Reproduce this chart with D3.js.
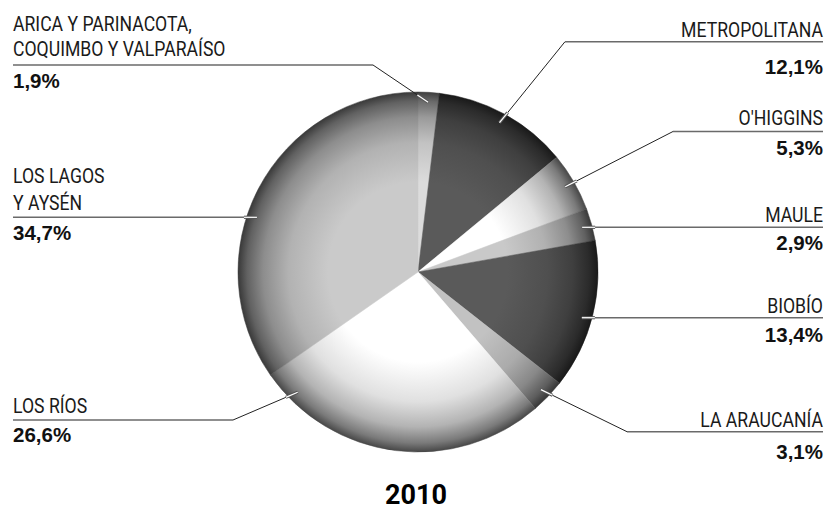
<!DOCTYPE html>
<html><head><meta charset="utf-8">
<script src="https://cdn.jsdelivr.net/npm/d3@7"></script>
<style>
html,body{margin:0;padding:0;background:#fff;}
svg{display:block;}
.name{font-family:Roboto,"Liberation Sans",sans-serif;font-weight:400;font-size:21px;fill:#1a1a1a;}
.pct{font-family:"Liberation Sans","Arial",sans-serif;font-weight:bold;font-size:20.5px;fill:#111;}
.title{font-family:Roboto,"Liberation Sans",sans-serif;font-weight:bold;font-size:27px;fill:#000;}
</style></head>
<body>
<svg id="c" width="825" height="512"></svg>
<script>
// ---- data ----
const regions = ["ARICA Y PARINACOTA,\nCOQUIMBO Y VALPARAÍSO","METROPOLITANA","O'HIGGINS","MAULE","BIOBÍO","LA ARAUCANÍA","LOS RÍOS","LOS LAGOS\nY AYSÉN"];
const shares = [1.9, 12.1, 5.3, 2.9, 13.4, 3.1, 26.6, 34.7];
const shareLabels = ["1,9%","12,1%","5,3%","2,9%","13,4%","3,1%","26,6%","34,7%"];
const year = "2010";

// ---- styling / layout (not data) ----
const baseColors = ["#dcdcdc","#5a5a5a","#ffffff","#c9c9c9","#5a5a5a","#c2c2c2","#ffffff","#cacaca"];
const layout = [
  {side:"left",  lineY:65,    elbowX:373,  nameY:[31,56],   pctY:88},
  {side:"right", lineY:41.7,  elbowX:565,  nameY:[36.5],    pctY:74},
  {side:"right", lineY:131.5, elbowX:673,  nameY:[125],     pctY:155},
  {side:"right", lineY:227.3, elbowX:null, nameY:[221.5],   pctY:250},
  {side:"right", lineY:317.7, elbowX:null, nameY:[313],     pctY:341.5},
  {side:"right", lineY:431.7, elbowX:627,  nameY:[426.5],   pctY:459},
  {side:"left",  lineY:420,   elbowX:233,  nameY:[412.5],   pctY:441.5, angle:225},
  {side:"left",  lineY:217.3, elbowX:null, nameY:[183,210], pctY:240}
];
const W=825, H=512, cx=418, cy=272, R=180, leftX=13, rightX=823, nameScale=0.84;

const svg = d3.select("#c");
const defs = svg.append("defs");
const pie = d3.pie().sort(null).value(d=>d)(shares);
const arc = d3.arc().innerRadius(0).outerRadius(R);

pie.forEach((p,i)=>{
  const base = baseColors[i];
  const g = defs.append("radialGradient").attr("id","g"+i)
    .attr("gradientUnits","userSpaceOnUse").attr("cx",0).attr("cy",0).attr("r",R);
  [[0,0],[0.5,0],[0.72,0.12],[0.86,0.3],[0.95,0.52],[1,0.72]].forEach(([o,t])=>{
    g.append("stop").attr("offset",o).attr("stop-color",d3.interpolateRgb(base,"#000")(t));
  });
});

const gPie = svg.append("g").attr("transform",`translate(${cx},${cy})`);
gPie.selectAll("path").data(pie).join("path")
  .attr("d",arc).attr("fill",(d,i)=>`url(#g${i})`)
  .attr("stroke",(d,i)=>`url(#g${i})`).attr("stroke-width",0.5);

const gLab = svg.append("g");
const rA = R*0.945;
pie.forEach((p,i)=>{
  const L = layout[i];
  let ax, ay;
  if (L.elbowX===null) {
    ay = L.lineY;
    const dy = ay-cy;
    const dx = Math.sqrt(rA*rA-dy*dy);
    ax = L.side==="right" ? cx+dx : cx-dx;
  } else {
    const ang = (L.angle!==undefined ? L.angle*Math.PI/180 : (p.startAngle+p.endAngle)/2);
    ax = cx + rA*Math.sin(ang);
    ay = cy - rA*Math.cos(ang);
  }
  const endX = L.side==="right" ? rightX : leftX;
  const ex = L.elbowX===null ? ax : L.elbowX;
  if (L.elbowX!==null) {
    gLab.append("line").attr("x1",ax).attr("y1",ay).attr("x2",ex).attr("y2",L.lineY)
      .attr("stroke","#222").attr("stroke-width",1);
  }
  gLab.append("line").attr("x1",ex).attr("y1",L.lineY).attr("x2",endX).attr("y2",L.lineY)
    .attr("stroke","#6a6a6a").attr("stroke-width",1.6);
  const dxl = ex-ax, dyl = L.lineY-ay;
  let len = Math.hypot(dxl,dyl), ux, uy;
  if (L.elbowX===null){ ux = L.side==="right"?1:-1; uy=0; } else { ux=dxl/len; uy=dyl/len; }
  const sl = 13;
  gLab.append("line").attr("x1",ax).attr("y1",ay).attr("x2",ax+ux*sl).attr("y2",ay+uy*sl)
    .attr("stroke","#555").attr("stroke-width",3.2);
  gLab.append("line").attr("x1",ax).attr("y1",ay).attr("x2",ax+ux*sl).attr("y2",ay+uy*sl)
    .attr("stroke","#fff").attr("stroke-width",1.2);

  const anchor = L.side==="right" ? "end" : "start";
  const lines = regions[i].split("\n");
  lines.forEach((t,k)=>{
    gLab.append("text").attr("class","name")
      .attr("transform",`translate(${endX},${L.nameY[k]}) scale(${nameScale},1)`)
      .attr("text-anchor",anchor).text(t);
  });
  gLab.append("text").attr("class","pct").attr("x",endX).attr("y",L.pctY)
    .attr("text-anchor",anchor).text(shareLabels[i]);
});

svg.append("text").attr("class","title").attr("x",416).attr("y",504)
  .attr("text-anchor","middle").text(year);
</script>
</body></html>
